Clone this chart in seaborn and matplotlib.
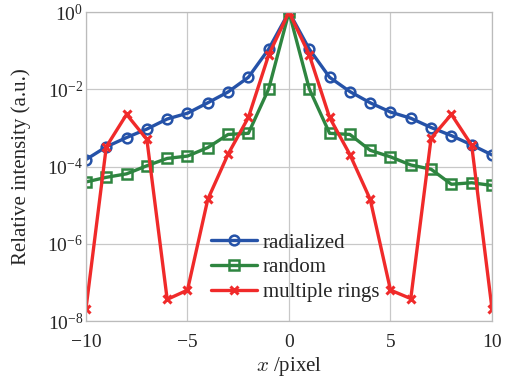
import numpy as np
import pandas as pd
import matplotlib
matplotlib.use("Agg")
import matplotlib.pyplot as plt
import seaborn as sns

x_pixel = list(range(-10, 11))

# log10 of relative intensity
radialized_log = [-3.82, -3.49, -3.25, -3.03, -2.77, -2.62, -2.35, -2.07, -1.69, -0.96, 0.0,
                  -0.96, -1.69, -2.06, -2.35, -2.59, -2.75, -2.99, -3.20, -3.44, -3.70]
random_log = [-4.40, -4.28, -4.19, -3.98, -3.79, -3.73, -3.51, -3.17, -3.14, -1.99, 0.0,
              -1.99, -3.14, -3.17, -3.58, -3.75, -3.96, -4.07, -4.46, -4.42, -4.49]
rings_log = [-7.68, -3.49, -2.65, -3.30, -7.44, -7.20, -4.85, -3.68, -2.73, -1.11, 0.0,
             -1.11, -2.73, -3.69, -4.85, -7.20, -7.42, -3.27, -2.65, -3.45, -7.68]

df = pd.DataFrame({
    "x": x_pixel,
    "radialized": np.power(10.0, radialized_log),
    "random": np.power(10.0, random_log),
    "multiple rings": np.power(10.0, rings_log),
})

sns.set_theme(style="whitegrid")
plt.rcParams["font.family"] = ["Liberation Serif", "DejaVu Serif"]
plt.rcParams["mathtext.fontset"] = "cm"

fig, ax = plt.subplots(figsize=(5.23, 3.79), dpi=100)
fig.subplots_adjust(left=0.1644, right=0.9407, top=0.9683, bottom=0.153)

sns.lineplot(data=df, x="x", y="radialized", ax=ax, color="#2552a8", lw=2.4,
             marker="o", markersize=7, markerfacecolor="none",
             markeredgecolor="#2552a8", markeredgewidth=1.8, label="radialized")
sns.lineplot(data=df, x="x", y="random", ax=ax, color="#2e8540", lw=2.4,
             marker="s", markersize=7, markerfacecolor="none",
             markeredgecolor="#2e8540", markeredgewidth=1.8, label="random")
sns.lineplot(data=df, x="x", y="multiple rings", ax=ax, color="#f02a2a", lw=2.4,
             marker="x", markersize=6, markeredgecolor="#f02a2a",
             markeredgewidth=2.2, label="multiple rings")

ax.set_yscale("log")
ax.set_ylim(1e-8, 1)
ax.set_xlim(-10, 10)
ax.set_yticks([1e-8, 1e-6, 1e-4, 1e-2, 1])
ax.yaxis.set_minor_locator(matplotlib.ticker.NullLocator())
ax.set_xticks([-10, -5, 0, 5, 10])
ax.set_xticklabels(["\u221210", "\u22125", "0", "5", "10"])

ax.grid(True, color="#c8c8c8", lw=0.9)
for s in ax.spines.values():
    s.set_color("#bbbbbb")
    s.set_linewidth(0.9)
ax.tick_params(labelsize=14, length=0)
ax.tick_params(axis="x", pad=9)
ax.tick_params(axis="y", pad=2)

ax.set_xlabel("$x$ /pixel", fontsize=15, labelpad=3)
ax.set_ylabel("Relative intensity (a.u.)", fontsize=15, labelpad=12)

ax.legend(loc="lower center", bbox_to_anchor=(0.515, 0.0), frameon=False,
          fontsize=15, handlelength=2.2, handletextpad=0.3, labelspacing=0.25)

fig.savefig("out.png", dpi=100, facecolor="white")
